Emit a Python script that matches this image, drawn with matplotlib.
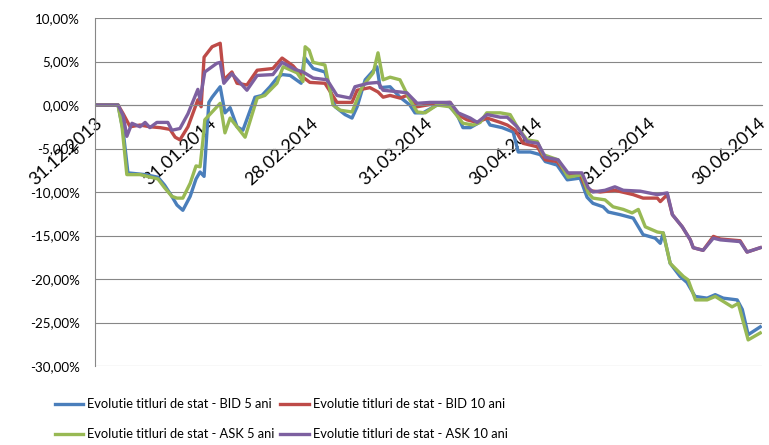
import numpy as np
import pandas as pd
import matplotlib
matplotlib.use('Agg')
import matplotlib.pyplot as plt
from matplotlib.ticker import FuncFormatter

# days since 31.12.2013 and value in %
bid5_days = [0, 6.3, 7.7, 9, 13.7, 17.2, 19, 21, 22.4, 24, 26, 27.6, 28.7, 29.8, 31.1, 32, 34.2, 35.5, 36.9,
             38.8, 40.4, 43.7, 45.6, 47.8, 49.7, 51.1, 53.3, 56.3, 57.2, 59.6, 62.8, 65.6, 68.3, 70.2, 71.6,
             73.8, 77, 77.9, 80.6, 83.3, 86, 87.4, 89.6, 93.4, 96.4, 98.9, 100.5, 102.5, 104.6, 106.6,
             107.9, 111.2, 114.2, 115.6, 118.9, 121.6, 123, 126.2, 129, 132.5, 134.4, 136, 138.8, 140.2,
             143.4, 147, 149.7, 153, 154.4, 155.2, 157.1, 159.8, 161.7, 163.9, 167.2, 169.4, 171.6, 175.4,
             176.8, 178.4, 181.7]
bid5_vals = [0, 0, -3.0, -7.8, -8.0, -8.3, -9.2, -10.5, -11.5, -12.1, -10.5, -8.5, -7.7, -8.2, 0.3, 0.9, 2.1,
             -0.9, -0.3, -2.5, -2.9, 0.9, 1.1, 2.1, 3.1, 3.5, 3.4, 2.5, 5.5, 4.2, 3.8, -0.2, -1.1, -1.5, -0.2,
             2.9, 4.4, 2.0, 2.1, 0.9, 0.0, -0.9, -0.9, 0.0, 0.0, -1.1, -2.6, -2.6, -2.1, -1.4, -2.3, -2.6,
             -3.1, -5.4, -5.4, -5.7, -6.5, -6.9, -8.6, -8.4, -10.6, -11.3, -11.7, -12.3, -12.6, -13.0, -14.9,
             -15.3, -15.9, -14.7, -18.2, -19.7, -20.4, -22.0, -22.2, -21.8, -22.2, -22.4, -23.5, -26.4, -25.5]

bid10_days = [0, 6.3, 7.7, 9.6, 12.3, 15, 17.8, 20.5, 21.9, 23.2, 25.4, 28.1, 29, 29.8, 32, 34.2, 35.2, 37.4,
              38.8, 41.5, 44.3, 48.6, 51.1, 54.1, 56.8, 58.7, 62.8, 66.1, 70.2, 71.6, 75.1, 77.3, 78.7, 80.6,
              83.3, 85.2, 88, 93.4, 97, 99, 101.6, 104.4, 107.1, 110.7, 112.6, 114.8, 116.9, 120.8, 123,
              126.2, 129, 132.5, 134.4, 138, 142, 147, 149.7, 153.6, 154.4, 156.3, 157.7, 160.4, 162.6, 163.4,
              166.1, 168.9, 170.8, 176.2, 178.1, 181.7]
bid10_vals = [0, 0, -1.0, -2.5, -2.3, -2.5, -2.6, -2.8, -3.7, -4.0, -2.5, 0.6, -0.2, 5.5, 6.7, 7.1, 2.9, 3.8,
              2.5, 2.3, 4.0, 4.2, 5.4, 4.5, 3.2, 2.6, 2.5, 0.3, 0.3, 1.7, 2.0, 1.5, 0.9, 1.1, 0.8, 1.1, -0.2,
              0.2, 0.3, -1.1, -1.7, -2.0, -1.5, -2.0, -2.3, -2.9, -4.4, -4.8, -6.3, -6.5, -8.0, -8.0, -9.8,
              -10.0, -9.8, -10.3, -10.7, -10.7, -11.1, -10.3, -12.6, -14.0, -15.5, -16.4, -16.7, -15.1, -15.4,
              -15.6, -16.9, -16.4]

ask5_days = [0, 6.3, 7.4, 8.7, 12.3, 17.2, 19, 21, 22.4, 24, 26, 27.6, 28.7, 29.5, 30, 34.2, 35.5, 36.9, 41,
             44.3, 46.4, 49.7, 51.4, 55.2, 56.8, 57.4, 58.5, 59.6, 62.8, 65, 67, 70.2, 73, 76, 77.3, 78.7,
             80.6, 83.3, 86, 88, 90.2, 93.4, 97, 99, 100.5, 103.3, 105.2, 107, 110.7, 113.4, 115.3, 118,
             120.8, 122.4, 126.5, 129.2, 133, 134.7, 136, 139.3, 141.5, 144.3, 146.7, 148.4, 150.3, 153.6,
             155.2, 157.1, 160.7, 162, 164, 167.2, 169.4, 174, 175.7, 178.4, 181.7]
ask5_vals = [0, 0, -2.5, -8.0, -8.0, -8.5, -9.5, -10.5, -10.7, -10.7, -9.0, -7.0, -7.1, -4.0, -1.7, 0.2, -3.2,
             -1.5, -3.7, 0.8, 1.1, 2.5, 4.4, 3.7, 2.7, 6.7, 6.3, 4.9, 4.6, 0.0, -0.6, -0.8, 2.1, 3.7, 6.0,
             2.9, 3.2, 2.9, 0.6, -0.8, -0.9, 0.0, -0.2, -1.3, -2.1, -2.3, -2.0, -0.9, -0.9, -1.1, -2.5, -4.0,
             -4.2, -5.7, -6.3, -8.3, -8.0, -10.1, -10.7, -10.9, -11.7, -12.0, -12.4, -12.0, -14.0, -14.6,
             -14.7, -18.2, -19.7, -20.1, -22.4, -22.4, -22.0, -23.2, -22.8, -27.0, -26.2]

ask10_days = [0, 6.3, 7.7, 8.7, 10.1, 12.3, 13.7, 15, 16.9, 19.9, 21, 23.2, 25.4, 28.1, 28.7, 30, 33.3, 34.2,
              35.2, 37.4, 41.5, 44.3, 48.6, 51.1, 54.6, 56.8, 59.6, 63.4, 66.1, 69.7, 71, 74.6, 77.3, 78.7,
              83.3, 85.2, 88, 91.5, 97, 99.2, 102.5, 104.4, 107.1, 110.7, 112.6, 115.3, 118, 121, 123, 126.5,
              129.2, 133, 134.7, 136, 139.3, 142, 144.3, 148.9, 153.6, 156.3, 157.7, 160.4, 162.6, 163.4,
              166.1, 168.9, 170.8, 176.2, 178.1, 181.7]
ask10_vals = [0, 0, -1.2, -3.6, -2.1, -2.5, -2.0, -2.6, -2.0, -2.0, -2.9, -2.7, -1.0, 1.8, 0.6, 3.8, 4.8, 4.9,
              2.5, 3.6, 1.7, 3.4, 3.5, 4.9, 4.1, 3.8, 3.1, 2.9, 1.1, 0.8, 2.1, 2.5, 2.6, 1.7, 1.5, 1.4, 0.2,
              0.3, 0.3, -0.9, -1.5, -2.0, -1.1, -1.4, -1.4, -2.5, -4.2, -4.4, -6.0, -6.3, -7.8, -7.8, -9.5,
              -10.0, -9.8, -9.4, -9.8, -9.9, -10.3, -10.1, -12.6, -14.0, -15.5, -16.4, -16.7, -15.3, -15.5,
              -15.7, -16.9, -16.4]

tick_dates = ['2013-12-31', '2014-01-31', '2014-02-28', '2014-03-31', '2014-04-30', '2014-05-31', '2014-06-30']
tick_labels = ['31.12.2013', '31.01.2014', '28.02.2014', '31.03.2014', '30.04.2014', '31.05.2014', '30.06.2014']

labels = ['Evolutie titluri de stat - BID 5 ani', 'Evolutie titluri de stat - BID 10 ani',
          'Evolutie titluri de stat - ASK 5 ani', 'Evolutie titluri de stat - ASK 10 ani']
colors = ['#4A7EBB', '#BE4B48', '#98B954', '#7D60A0']

plt.rcParams['font.family'] = ['Lato', 'DejaVu Sans']

base = pd.Timestamp('2013-12-31')


def to_dates(days):
    return base + pd.to_timedelta(np.array(days), unit='D')


def pct(y, _):
    return f'{round(y * 100, 2) + 0:.2f}%'.replace('.', ',')


fig = plt.figure(figsize=(7.69, 4.45), dpi=100)
ax = fig.add_axes([0.1235, 0.1775, 0.8675, 0.782])

series = [(bid5_days, bid5_vals), (bid10_days, bid10_vals), (ask5_days, ask5_vals), (ask10_days, ask10_vals)]
lines = []
for (d, v), c, lab in zip(series, colors, labels):
    ln, = ax.plot(to_dates(d), np.array(v) / 100, color=c, lw=2.4, label=lab, solid_joinstyle='round')
    lines.append(ln)

# axis crosses at 0 (set before tick labels, set_position resets ticks)
for s in ['top', 'right']:
    ax.spines[s].set_visible(False)
ax.spines['left'].set_color('#878787')
ax.spines['bottom'].set_position(('data', 0))
ax.spines['bottom'].set_color('#878787')

ax.set_ylim(-0.30, 0.10)
ax.set_yticks(np.arange(-0.30, 0.101, 0.05))
ax.yaxis.set_major_formatter(FuncFormatter(pct))
ax.set_xlim(base, base + pd.Timedelta(days=182.2))

ax.set_xticks(pd.to_datetime(tick_dates))
ax.set_xticklabels(tick_labels)
ax.tick_params(axis='y', length=0, pad=11, labelsize=9.6)
ax.tick_params(axis='x', length=0, pad=7, labelsize=13)
plt.setp(ax.get_xticklabels(), rotation=42, ha='right', va='top', rotation_mode='anchor')

ax.grid(axis='y', color='#878787', lw=0.8)
ax.set_axisbelow(True)

handles = [lines[0], lines[2], lines[1], lines[3]]
fig.legend(handles, [h.get_label() for h in handles], ncol=2, loc='upper left',
           bbox_to_anchor=(0.0715, 0.105), frameon=False, fontsize=9.3, borderpad=0, borderaxespad=0,
           handlelength=2.2, handletextpad=0.3, columnspacing=0.45, labelspacing=1.4)

fig.savefig('out.png', dpi=100)
